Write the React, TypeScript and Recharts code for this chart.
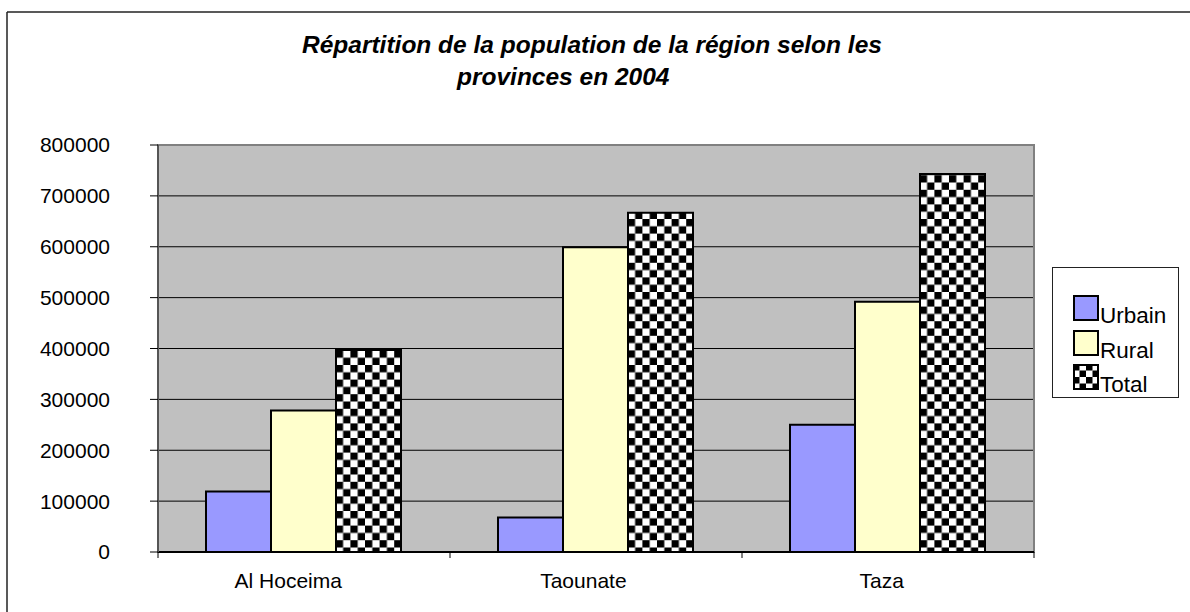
import React from 'react'
import { Bar, BarChart, CartesianGrid, Legend, ReferenceArea, XAxis, YAxis } from 'recharts'

const provinces = ['Al Hoceima', 'Taounate', 'Taza']
const urbain = [119000, 68000, 250000]
const rural = [278000, 599000, 492000]
const total = [397000, 667000, 743000]
const yTicks = [0, 100000, 200000, 300000, 400000, 500000, 600000, 700000, 800000]

const titleLines = ['Répartition de la population de la région selon les', 'provinces en 2004']

const FONT = '"Liberation Sans", Arial, sans-serif'
const W = 1190
const H = 612

const series = [
  { key: 'urbain', name: 'Urbain', fill: '#9999FF' },
  { key: 'rural', name: 'Rural', fill: '#FFFFCC' },
  { key: 'total', name: 'Total', fill: 'url(#checker)' },
]

const data = provinces.map((name, i) => ({
  name, urbain: urbain[i], rural: rural[i], total: total[i],
}))

function CheckerDef({ id, size }: { id: string; size: number }) {
  const h = size / 2
  return (
    <defs>
      <pattern id={id} width={size} height={size} patternUnits="userSpaceOnUse">
        <rect width={size} height={size} fill="#fff" />
        <rect x={0} y={0} width={h} height={h} fill="#000" />
        <rect x={h} y={h} width={h} height={h} fill="#000" />
      </pattern>
    </defs>
  )
}

function CategoryTick(props: any) {
  const { x, y, payload, index, visibleTicksCount } = props
  const half = payload?.offset ?? 0
  const label = String(payload.value)
  // labels sit a little left of the band centre, as in the source sheet
  const shift = -0.15 * label.length * 10.5
  const last = index === (visibleTicksCount ?? provinces.length) - 1
  return (
    <g>
      <line x1={x - half} x2={x - half} y1={y} y2={y + 6} stroke="#000" />
      {last && <line x1={x + half} x2={x + half} y1={y} y2={y + 6} stroke="#000" />}
      <text x={x + shift} y={y + 36} textAnchor="middle" fontFamily={FONT} fontSize={21} fill="#000">
        {label}
      </text>
    </g>
  )
}

function LegendBox() {
  // keep the series order (the default legend sorts by name)
  return (
    <div style={{
      width: 127, height: 131, boxSizing: 'border-box', border: '1px solid #222', background: '#fff',
      paddingTop: 27, paddingLeft: 20, fontFamily: FONT, fontSize: 22.5, color: '#000',
    }}>
      {series.map((s, i) => (
        <div key={s.key} style={{ display: 'flex', height: 26, marginBottom: i < series.length - 1 ? 8.6 : 0 }}>
          <svg width={26} height={26} style={{ display: 'block', flex: 'none' }}>
            {s.key === 'total' && <CheckerDef id="checkerLegend" size={13} />}
            <rect x={1} y={1} width={24} height={24}
                  fill={s.key === 'total' ? 'url(#checkerLegend)' : s.fill} stroke="#000" strokeWidth={2} />
          </svg>
          <span style={{ lineHeight: '26px', position: 'relative', top: 8, marginLeft: 1 }}>{s.name}</span>
        </div>
      ))}
    </div>
  )
}

export default function App() {
  return (
    <div style={{ position: 'absolute', left: 0, top: 0, width: W, height: H, background: '#fff' }}>
      <BarChart width={W} height={H} data={data} barCategoryGap={48} barGap={0}
                margin={{ top: 145, right: 156, bottom: 20, left: 0 }}>
        <CheckerDef id="checker" size={14.6} />
        <CartesianGrid fill="#C0C0C0" vertical={false} stroke="#000" strokeWidth={1} />
        <ReferenceArea y1={0} y2={800000} fill="none" stroke="#808080" strokeWidth={2} ifOverflow="visible" />
        <XAxis dataKey="name" height={40} tickSize={0} tickMargin={0} tickLine={false}
               axisLine={{ stroke: '#000', strokeWidth: 2 }} tick={<CategoryTick />} interval={0} />
        <YAxis domain={[0, 800000]} ticks={yTicks} interval={0} width={158} tickSize={8} tickMargin={40}
               axisLine={{ stroke: '#555', strokeWidth: 2 }} tickLine={{ stroke: '#000' }}
               tick={{ fontFamily: FONT, fontSize: 21, fill: '#000' }} />
        <Legend layout="horizontal" verticalAlign="middle" align="center" content={<LegendBox />}
                wrapperStyle={{ left: 1052, top: 267, width: 127, height: 131 }} />
        {series.map(s => (
          <Bar key={s.key} dataKey={s.key} name={s.name} fill={s.fill} stroke="#000" strokeWidth={2}
               isAnimationActive={false} />
        ))}
      </BarChart>
      <svg width={W} height={H} style={{ position: 'absolute', left: 0, top: 0, pointerEvents: 'none' }}>
        <line x1={7} y1={12} x2={W} y2={12} stroke="#222" strokeWidth={1.5} />
        <line x1={7} y1={12} x2={7} y2={H} stroke="#222" strokeWidth={1.5} />
        <text x={302} y={53} fontFamily={FONT} fontSize={24.5} fontWeight="bold" fontStyle="italic" fill="#000">
          {titleLines[0]}
        </text>
        <text x={457} y={85} fontFamily={FONT} fontSize={24.5} fontWeight="bold" fontStyle="italic" fill="#000">
          {titleLines[1]}
        </text>
      </svg>
    </div>
  )
}
